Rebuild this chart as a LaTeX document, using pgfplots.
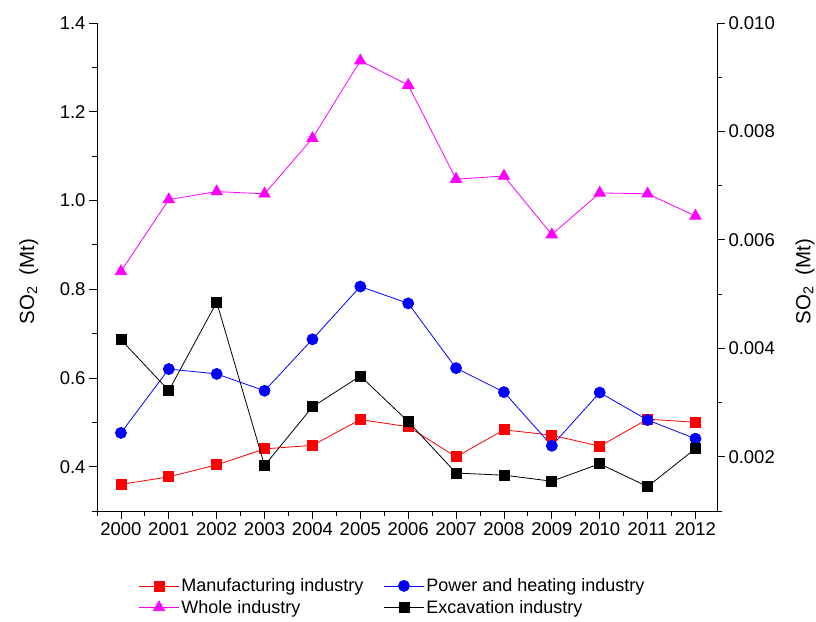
\documentclass[border=0pt]{standalone}
\usepackage{fontspec}
\setmainfont{Liberation Sans}
\usepackage{pgfplots}
\pgfplotsset{compat=1.18}
\definecolor{cRed}{RGB}{255,0,0}
\definecolor{cBlue}{RGB}{0,0,255}
\definecolor{cMag}{RGB}{255,0,255}
\pgfplotsset{
  myax/.style={
    at={(97pt,110pt)}, anchor=south west,
    width=620pt, height=488pt, scale only axis,
    xmin=1999.5, xmax=2012.45,
    tick align=outside,
    major tick length=8pt, minor tick length=5pt,
    every tick/.style={black, line width=0.8pt},
    axis line style={line width=0.9pt, -},
    tick label style={font=\fontsize{18.5}{21}\selectfont},
    label style={font=\fontsize{20.5}{23}\selectfont},
    /pgf/number format/assume math mode=true,
  },
  legend image code/.code={\draw[mark repeat=2,mark phase=2] plot coordinates {(0pt,0pt) (20pt,0pt) (40pt,0pt)};},
}
\begin{document}
\begin{tikzpicture}[x=1pt,y=1pt]
\path[use as bounding box] (0,0) rectangle (816,621);
\begin{axis}[myax,
  axis x line*=bottom, axis y line*=left,
  ymin=0.3, ymax=1.4,
  ytick={0.4,0.6,0.8,1.0,1.2,1.4},
  minor ytick={0.3,0.5,0.7,0.9,1.1,1.3},
  yticklabel style={/pgf/number format/.cd, fixed, fixed zerofill, precision=1},
  xtick={2000,2001,...,2012},
  minor xtick={1999.5,2000.5,...,2012.5},
  xticklabel style={/pgf/number format/1000 sep={}},
  ylabel={SO\textsubscript{2}~~(Mt)},
  ylabel style={at={(axis description cs:-0.11,0.47)}, anchor=center},
  legend style={at={(axis description cs:0.062,-0.13)}, anchor=north west, draw=none, fill=none,
    font=\fontsize{18}{21}\selectfont, row sep=3pt,
    /tikz/every even column/.append style={column sep=18pt}},
  legend columns=2, legend cell align=left,
]
\addplot[cRed, line width=0.8pt, mark=square*, mark size=5pt, mark options={fill=cRed, draw=cRed}] coordinates {
(2000,0.360) (2001,0.377) (2002,0.404) (2003,0.440) (2004,0.448) (2005,0.506) (2006,0.490)
(2007,0.422) (2008,0.483) (2009,0.471) (2010,0.446) (2011,0.507) (2012,0.500)};
\addlegendentry{Manufacturing industry}
\addplot[cBlue, line width=0.8pt, mark=*, mark size=5.5pt, mark options={fill=cBlue, draw=cBlue}] coordinates {
(2000,0.476) (2001,0.620) (2002,0.609) (2003,0.571) (2004,0.687) (2005,0.806) (2006,0.768)
(2007,0.622) (2008,0.568) (2009,0.447) (2010,0.567) (2011,0.505) (2012,0.463)};
\addlegendentry{Power and heating industry}
\addplot[cMag, line width=0.8pt, mark=triangle*, mark size=6.5pt, mark options={fill=cMag, draw=cMag}] coordinates {
(2000,0.840) (2001,1.002) (2002,1.020) (2003,1.015) (2004,1.140) (2005,1.315) (2006,1.260)
(2007,1.048) (2008,1.055) (2009,0.923) (2010,1.017) (2011,1.015) (2012,0.965)};
\addlegendentry{Whole industry}
\addlegendimage{black, line width=0.8pt, mark=square*, mark size=5pt, mark options={fill=black}}
\addlegendentry{Excavation industry}
\end{axis}
\begin{axis}[myax,
  axis x line=none, axis y line*=right,
  ymin=0.001, ymax=0.010,
  ytick={0.002,0.004,0.006,0.008,0.010},
  minor ytick={0.001,0.003,0.005,0.007,0.009},
  scaled y ticks=false,
  yticklabel style={/pgf/number format/.cd, fixed, fixed zerofill, precision=3},
  ylabel={SO\textsubscript{2}~~(Mt)},
  ylabel style={at={(axis description cs:1.142,0.47)}, anchor=center},
]
\addplot[black, line width=0.8pt, mark=square*, mark size=5pt, mark options={fill=black}] coordinates {
(2000,0.00416) (2001,0.00322) (2002,0.00485) (2003,0.00184) (2004,0.00292) (2005,0.00349) (2006,0.00265)
(2007,0.00170) (2008,0.00166) (2009,0.00155) (2010,0.00187) (2011,0.00145) (2012,0.00215)};
\end{axis}
\end{tikzpicture}
\end{document}
